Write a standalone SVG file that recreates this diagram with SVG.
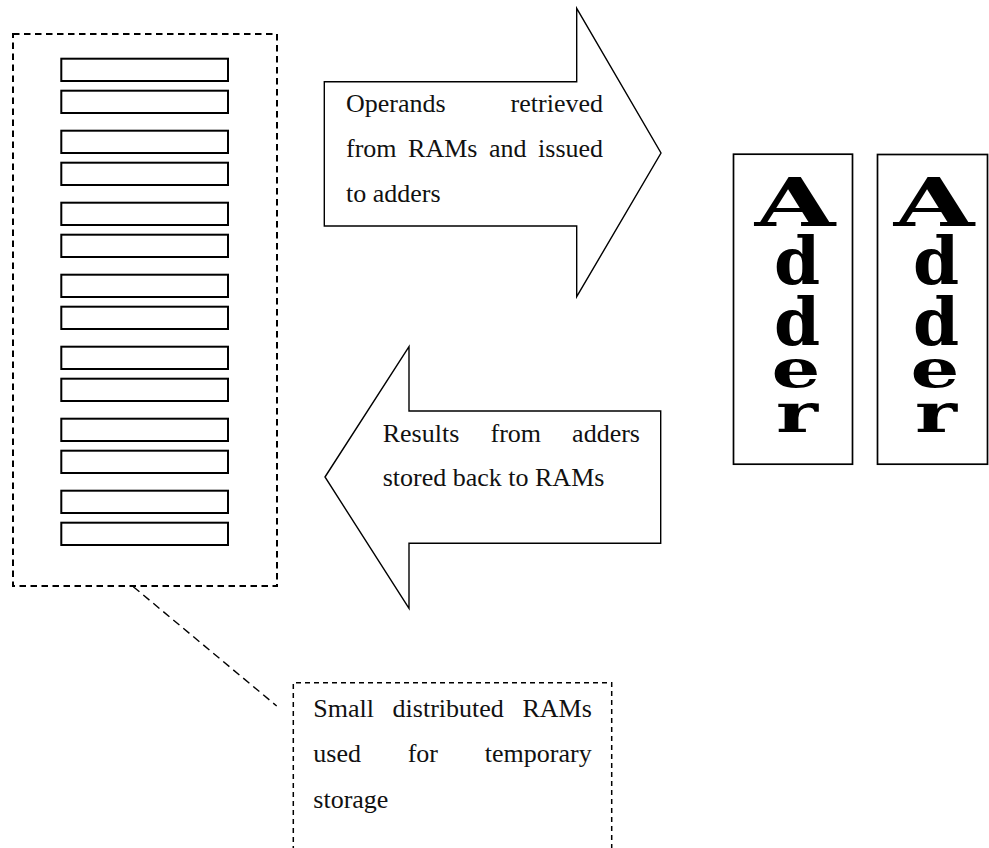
<svg xmlns="http://www.w3.org/2000/svg" width="989" height="848" viewBox="0 0 989 848">
  <style>
    .bg { fill: #ffffff; }
    .ram { fill: #ffffff; stroke: #000000; stroke-width: 2; }
    .group-box { fill: none; stroke: #000000; stroke-width: 2; stroke-dasharray: 6.5 4.5; }
    .note-box { fill: none; stroke: #000000; stroke-width: 1.5; stroke-dasharray: 5 4; }
    .leader { fill: none; stroke: #000000; stroke-width: 1.4; stroke-dasharray: 8 5; }
    .arrow { fill: #ffffff; stroke: #000000; stroke-width: 1.4; stroke-linejoin: miter; }
    .adder-box { fill: #ffffff; stroke: #000000; stroke-width: 1.7; }
    .body { font-family: "Liberation Serif", "Times New Roman", serif; font-size: 26px; fill: #111111; }
    .glyph { font-family: "DejaVu Serif", "Liberation Serif", serif; font-weight: bold; fill: #000000; text-anchor: middle; }
  </style>

  <rect class="bg" x="0" y="0" width="989" height="848"/>

  <!-- bank of small distributed RAMs -->
  <g id="ram-bank">
    <rect class="group-box" x="13" y="34" width="264" height="552"/>
    <rect class="ram" x="61.3" y="58.7" width="166.7" height="22.3"/>
    <rect class="ram" x="61.3" y="90.7" width="166.7" height="22.3"/>
    <rect class="ram" x="61.3" y="130.7" width="166.7" height="22.3"/>
    <rect class="ram" x="61.3" y="162.7" width="166.7" height="22.3"/>
    <rect class="ram" x="61.3" y="202.7" width="166.7" height="22.3"/>
    <rect class="ram" x="61.3" y="234.7" width="166.7" height="22.3"/>
    <rect class="ram" x="61.3" y="274.7" width="166.7" height="22.3"/>
    <rect class="ram" x="61.3" y="306.7" width="166.7" height="22.3"/>
    <rect class="ram" x="61.3" y="346.7" width="166.7" height="22.3"/>
    <rect class="ram" x="61.3" y="378.7" width="166.7" height="22.3"/>
    <rect class="ram" x="61.3" y="418.7" width="166.7" height="22.3"/>
    <rect class="ram" x="61.3" y="450.7" width="166.7" height="22.3"/>
    <rect class="ram" x="61.3" y="490.7" width="166.7" height="22.3"/>
    <rect class="ram" x="61.3" y="522.7" width="166.7" height="22.3"/>
  </g>

  <!-- operands flow: RAMs to adders -->
  <g id="arrow-issue">
    <polygon class="arrow" points="324.3,81.7 576.7,81.7 576.7,8.3 661,153 576.7,296.7 576.7,226 324.3,226"/>
    <text class="body" y="112"><tspan x="346">Operands</tspan><tspan x="510.6">retrieved</tspan></text>
    <text class="body" y="157"><tspan x="346">from</tspan><tspan x="408.1">RAMs</tspan><tspan x="489">and</tspan><tspan x="538.1">issued</tspan></text>
    <text class="body" x="346" y="202">to adders</text>
  </g>

  <!-- results flow: adders back to RAMs -->
  <g id="arrow-writeback">
    <polygon class="arrow" points="325,477 409,346.7 409,411 660.7,411 660.7,543.3 409,543.3 409,608.3"/>
    <text class="body" y="442"><tspan x="382.7">Results</tspan><tspan x="490.5">from</tspan><tspan x="572.1">adders</tspan></text>
    <text class="body" x="382.7" y="486">stored back to RAMs</text>
  </g>

  <!-- adder 1 -->
  <g id="adder-1">
    <rect class="adder-box" x="733.5" y="154.2" width="119" height="310"/>
    <text class="glyph" font-size="67" transform="matrix(1.55 0 0 1 795 226)">A</text>
    <text class="glyph" font-size="66" transform="matrix(1.0 0 0 1 797 284)">d</text>
    <text class="glyph" font-size="66" transform="matrix(1.0 0 0 1 797 345)">d</text>
    <text class="glyph" font-size="53" transform="matrix(1.45 0 0 1 796 387)">e</text>
    <text class="glyph" font-size="55" transform="matrix(1.45 0 0 1 797 432)">r</text>
  </g>

  <!-- adder 2 -->
  <g id="adder-2">
    <rect class="adder-box" x="877.5" y="154.5" width="110" height="309.7"/>
    <text class="glyph" font-size="67" transform="matrix(1.55 0 0 1 934 226)">A</text>
    <text class="glyph" font-size="66" transform="matrix(1.0 0 0 1 936 284)">d</text>
    <text class="glyph" font-size="66" transform="matrix(1.0 0 0 1 936 345)">d</text>
    <text class="glyph" font-size="53" transform="matrix(1.45 0 0 1 935 387)">e</text>
    <text class="glyph" font-size="55" transform="matrix(1.45 0 0 1 936 432)">r</text>
  </g>

  <!-- annotation for the RAM bank -->
  <g id="ram-note">
    <path class="note-box" d="M293.3,860 V682.7 H611.7 V860"/>
    <text class="body" y="717"><tspan x="313.3">Small</tspan><tspan x="392.6">distributed</tspan><tspan x="522.4">RAMs</tspan></text>
    <text class="body" y="762"><tspan x="313.3">used</tspan><tspan x="407.7">for</tspan><tspan x="484.8">temporary</tspan></text>
    <text class="body" x="313.3" y="808">storage</text>
  </g>

  <g id="connectors">
    <line class="leader" x1="133.3" y1="586.7" x2="276.7" y2="706"/>
  </g>
</svg>
